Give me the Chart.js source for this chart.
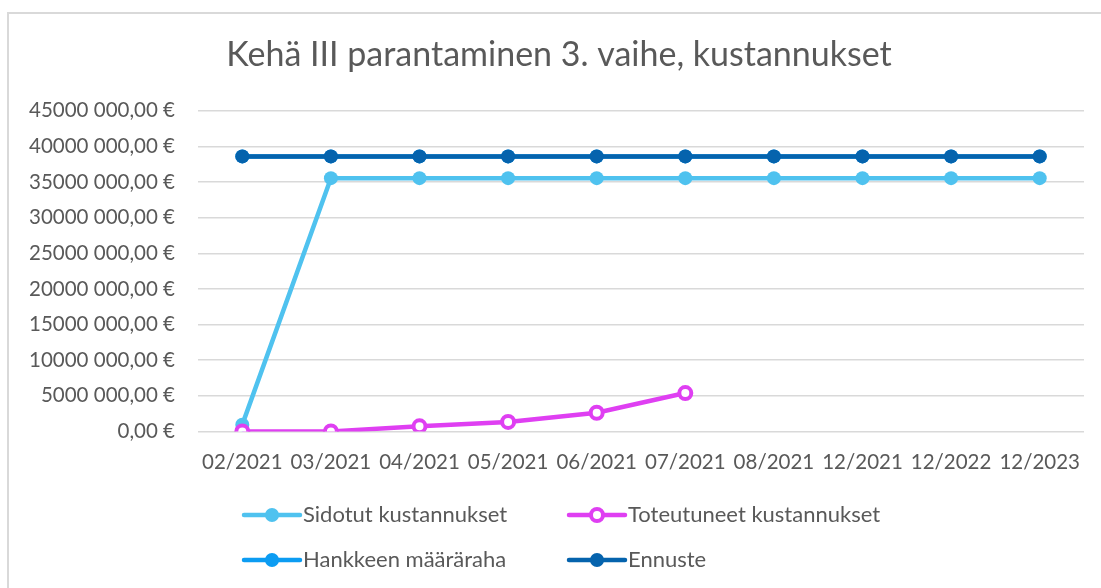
<!DOCTYPE html>
<html>
<head>
<meta charset="utf-8">
<script src="https://cdn.jsdelivr.net/npm/chart.js@4"></script>
<style>
  html, body { margin: 0; padding: 0; background: #fff; }
  #wrap { width: 1101px; height: 588px; }
</style>
</head>
<body>
<div id="wrap"><canvas id="kustannukset"></canvas></div>
<script>
// Kuukaudet ja sarjat
const kuukaudet = ['02/2021', '03/2021', '04/2021', '05/2021', '06/2021', '07/2021', '08/2021', '12/2021', '12/2022', '12/2023'];
const sidotut = [950000, 35550000, 35550000, 35550000, 35550000, 35550000, 35550000, 35550000, 35550000, 35550000];
const toteutuneet = [0, 0, 710000, 1330000, 2620000, 5380000, null, null, null, null];
const maararaha = [38600000, 38600000, 38600000, 38600000, 38600000, 38600000, 38600000, 38600000, 38600000, 38600000];
const ennuste = [38600000, 38600000, 38600000, 38600000, 38600000, 38600000, 38600000, 38600000, 38600000, 38600000];
const yMax = 45000000;
const yStep = 5000000;

const tekstiVari = '#595959';
const fontti = 'Lato, "Open Sans", sans-serif';

// "45000 000,00 €" -muoto
function euroa(v) {
    if (v === 0) return '0,00 €';
    const tuhannet = Math.floor(v / 1000);
    const loput = String(v % 1000).padStart(3, '0');
    return tuhannet + ' ' + loput + ',00 €';
}

// Harmaa kehys vasemmalle ja ylös
const kehys = {
    id: 'kehys',
    beforeDraw(chart) {
        const c = chart.ctx;
        c.save();
        c.strokeStyle = '#d9d9d9';
        c.lineWidth = 2;
        c.beginPath();
        c.moveTo(8, 588);
        c.lineTo(8, 13);
        c.lineTo(1101, 13);
        c.stroke();
        c.restore();
    }
};

// Selite kahteen sarakkeeseen
const selite = {
    id: 'selite',
    afterDraw(chart) {
        const c = chart.ctx;
        const xs = [244, 569];
        const ys = [515, 560];
        c.save();
        chart.data.datasets.forEach((ds, i) => {
            const x = xs[i % 2];
            const y = ys[Math.floor(i / 2)];
            c.strokeStyle = ds.borderColor;
            c.lineWidth = 4.5;
            c.lineCap = 'round';
            c.beginPath();
            c.moveTo(x, y);
            c.lineTo(x + 56, y);
            c.stroke();
            c.beginPath();
            c.arc(x + 28, y, ds.pointRadius, 0, Math.PI * 2);
            c.fillStyle = ds.pointBackgroundColor;
            c.fill();
            if (ds.pointBorderWidth) {
                c.lineWidth = ds.pointBorderWidth;
                c.strokeStyle = ds.pointBorderColor;
                c.stroke();
            }
            c.fillStyle = tekstiVari;
            c.font = '22px ' + fontti;
            c.textBaseline = 'middle';
            c.textAlign = 'left';
            c.fillText(ds.label, x + 59, y);
        });
        c.restore();
    }
};

function sarja(label, data, color, order) {
    return {
        label: label,
        data: data,
        order: order,
        borderColor: color,
        backgroundColor: color,
        borderWidth: 4.5,
        pointRadius: 7,
        pointHoverRadius: 7,
        pointBackgroundColor: color,
        pointBorderColor: color,
        pointBorderWidth: 0,
        tension: 0,
        spanGaps: false
    };
}

function piirraKaavio() {
    const ctx = document.getElementById('kustannukset').getContext('2d');
    const tot = sarja('Toteutuneet kustannukset', toteutuneet, '#df3ff2', 0);
    tot.pointBackgroundColor = '#ffffff';
    tot.pointBorderWidth = 4;
    tot.pointRadius = 6;
    tot.pointHoverRadius = 6;

    new Chart(ctx, {
        type: 'line',
        data: {
            labels: kuukaudet,
            datasets: [
                sarja('Sidotut kustannukset', sidotut, '#4fc2ef', 1),
                tot,
                sarja('Hankkeen määräraha', maararaha, '#0c9cf2', 3),
                sarja('Ennuste', ennuste, '#0563ad', 2)
            ]
        },
        options: {
            responsive: true,
            maintainAspectRatio: false,
            animation: false,
            layout: { padding: { left: 17, right: 0, top: 0, bottom: 94 } },
            plugins: {
                legend: { display: false },
                tooltip: { enabled: false },
                title: {
                    display: true,
                    text: 'Kehä III parantaminen 3. vaihe, kustannukset',
                    color: tekstiVari,
                    font: { family: fontti, size: 34, weight: 'normal' },
                    padding: { top: 35, bottom: 35 }
                }
            },
            scales: {
                x: {
                    offset: true,
                    grid: { display: false, drawTicks: false },
                    border: { display: false },
                    ticks: {
                        color: tekstiVari,
                        font: { family: fontti, size: 20.5 },
                        padding: 19,
                        maxRotation: 0,
                        autoSkip: false
                    }
                },
                y: {
                    min: 0,
                    max: yMax,
                    afterFit(s) { s.width = 181; },
                    grid: { color: '#d9d9d9', lineWidth: 1.5, drawTicks: false },
                    border: { display: false },
                    ticks: {
                        stepSize: yStep,
                        color: tekstiVari,
                        font: { family: fontti, size: 20.5 },
                        padding: 23,
                        callback: v => euroa(v)
                    }
                },
                // tyhjä oikea akseli, pitää piirtoalueen oikean reunan paikallaan
                tyhja: {
                    type: 'linear',
                    position: 'right',
                    min: 0,
                    max: yMax,
                    afterFit(s) { s.width = 17; },
                    grid: { display: false, drawTicks: false },
                    border: { display: false },
                    ticks: { display: false }
                }
            }
        },
        plugins: [kehys, selite]
    });
}

document.addEventListener('DOMContentLoaded', piirraKaavio);
</script>
</body>
</html>
